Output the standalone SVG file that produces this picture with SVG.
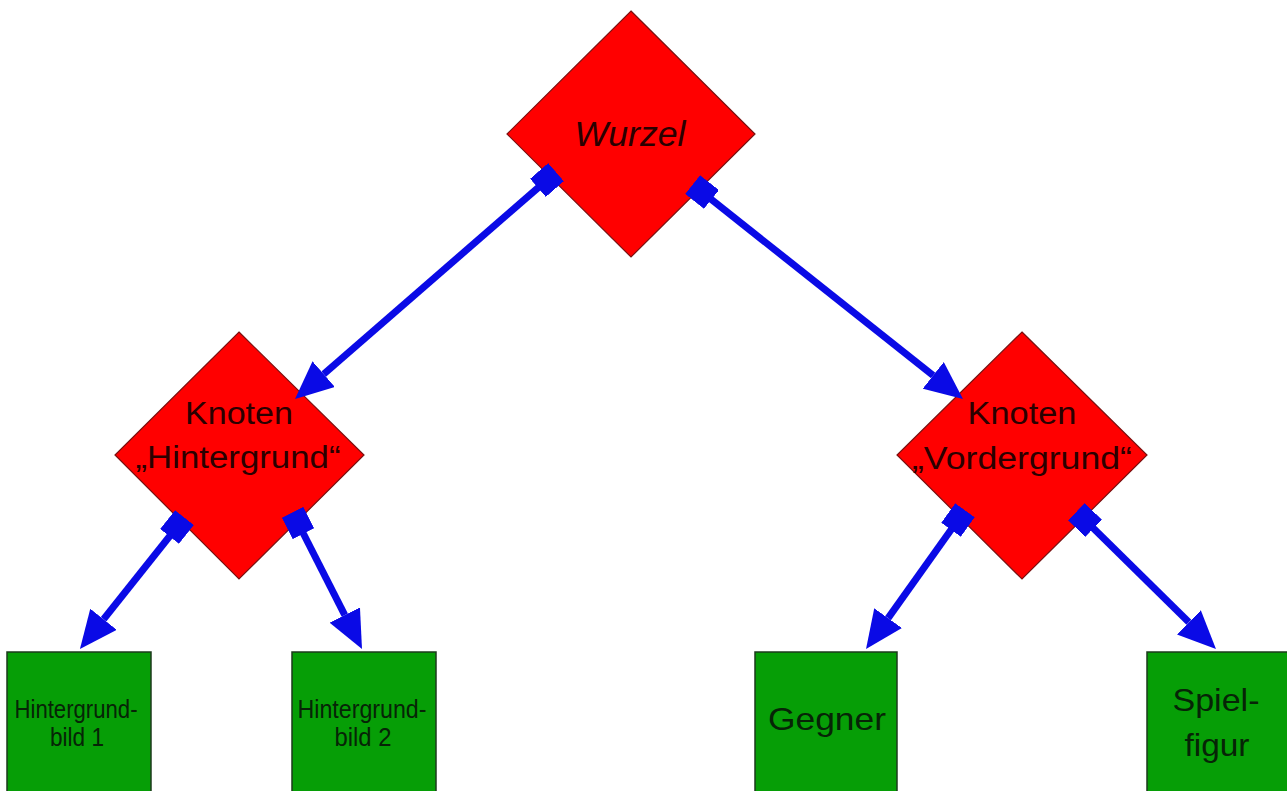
<svg xmlns="http://www.w3.org/2000/svg" width="1287" height="791" viewBox="0 0 1287 791">
  <style>
    .diamond { fill: #ff0000; stroke: #7a1010; stroke-width: 1.2; }
    .box { fill: #069e06; stroke: #1c3a1c; stroke-width: 1.5; }
    .t { font-family: "Liberation Sans", Arial, sans-serif; text-anchor: middle; }
    .tr { fill: #2a0000; }
    .tg { fill: #062406; }
    .link { fill: none; stroke: #0a0ae6; stroke-width: 7; marker-start: url(#sq); marker-end: url(#tri); }
  </style>
  <defs>
    <marker id="sq" viewBox="0 0 24 24" refX="12" refY="12" markerWidth="24" markerHeight="24" markerUnits="userSpaceOnUse" orient="auto">
      <rect x="0" y="0" width="24" height="24" fill="#0a0ae6"/>
    </marker>
    <marker id="tri" viewBox="0 0 38 34" refX="0" refY="17" markerWidth="38" markerHeight="34" markerUnits="userSpaceOnUse" orient="auto">
      <path d="M0,0 L38,17 L0,34 Z" fill="#0a0ae6"/>
    </marker>
  </defs>
  <rect width="1287" height="791" fill="#ffffff"/>

  <g id="n-wurzel">
    <polygon class="diamond" points="631,11 755,134 631,257 507,134"/>
    <text class="t tr" x="630" y="146" font-size="35" font-style="italic" textLength="111" lengthAdjust="spacingAndGlyphs">Wurzel</text>
  </g>

  <g id="n-hintergrund">
    <polygon class="diamond" points="239,332 364,455 239,579 115,455"/>
    <text class="t tr" x="239" y="424" font-size="31" textLength="108" lengthAdjust="spacingAndGlyphs">Knoten</text>
    <text class="t tr" x="238" y="468" font-size="31" textLength="205" lengthAdjust="spacingAndGlyphs">„Hintergrund“</text>
  </g>

  <g id="n-vordergrund">
    <polygon class="diamond" points="1022,332 1147,455 1022,579 897,455"/>
    <text class="t tr" x="1022" y="424" font-size="31" textLength="109" lengthAdjust="spacingAndGlyphs">Knoten</text>
    <text class="t tr" x="1022" y="469" font-size="31" textLength="220" lengthAdjust="spacingAndGlyphs">„Vordergrund“</text>
  </g>

  <g id="n-bild1">
    <rect class="box" x="7" y="652" width="144" height="150"/>
    <text class="t tg" x="76" y="718" font-size="26" textLength="123" lengthAdjust="spacingAndGlyphs">Hintergrund-</text>
    <text class="t tg" x="77" y="746" font-size="26" textLength="54" lengthAdjust="spacingAndGlyphs">bild 1</text>
  </g>

  <g id="n-bild2">
    <rect class="box" x="292" y="652" width="144" height="150"/>
    <text class="t tg" x="362" y="718" font-size="26" textLength="129" lengthAdjust="spacingAndGlyphs">Hintergrund-</text>
    <text class="t tg" x="363" y="746" font-size="26" textLength="57" lengthAdjust="spacingAndGlyphs">bild 2</text>
  </g>

  <g id="n-gegner">
    <rect class="box" x="755" y="652" width="142" height="150"/>
    <text class="t tg" x="827" y="730" font-size="32" textLength="118" lengthAdjust="spacingAndGlyphs">Gegner</text>
  </g>

  <g id="n-spielfigur">
    <rect class="box" x="1147" y="652" width="142" height="150"/>
    <text class="t tg" x="1216" y="711" font-size="32" textLength="87" lengthAdjust="spacingAndGlyphs">Spiel-</text>
    <text class="t tg" x="1217" y="756" font-size="32" textLength="65" lengthAdjust="spacingAndGlyphs">figur</text>
  </g>

  <g id="connectors">
    <path class="link" d="M547,180 L323.7,374.1"/>
    <path class="link" d="M702,192 L933.2,375.4"/>
    <path class="link" d="M177,527 L103.6,619.3"/>
    <path class="link" d="M298,523 L344.8,615.1"/>
    <path class="link" d="M958,520 L888.1,618.1"/>
    <path class="link" d="M1085,520 L1188.9,622.3"/>
  </g>
</svg>
